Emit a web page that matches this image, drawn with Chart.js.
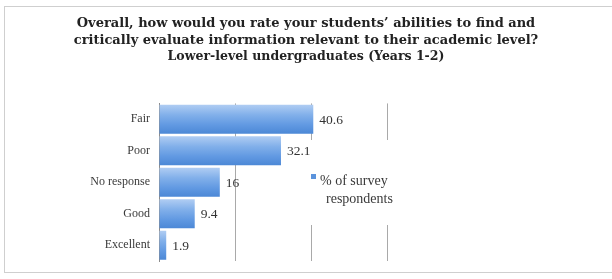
<!DOCTYPE html>
<html>
<head>
<meta charset="utf-8">
<script src="https://cdn.jsdelivr.net/npm/chart.js@4/dist/chart.umd.min.js"></script>
<style>
    body { margin: 0; background: #fff; }
    #wrap { width: 612px; height: 279px; }
</style>
</head>
<body>
<div id="wrap"><canvas id="chart" width="612" height="279"></canvas></div>
<script>
const categories = ['Fair', 'Poor', 'No response', 'Good', 'Excellent'];
const percentValues = [40.6, 32.1, 16, 9.4, 1.9];
const seriesName = ['% of survey', 'respondents'];
const titleLines = [
    'Overall, how would you rate your students\u2019 abilities to find and',
    'critically evaluate information relevant to their academic level?'
];
const subtitleText = 'Lower-level undergraduates (Years 1-2)';

const SERIF = "'Liberation Serif', 'DejaVu Serif', serif";
const WIDE_SERIF = "'DejaVu Serif', 'Liberation Serif', serif";

// vertical gradient for each bar, based on the category scale
function barFill(ctx) {
    const chart = ctx.chart;
    if (!chart.chartArea) return '#5b93dc';
    const y = chart.scales.y;
    const c = y.getPixelForValue(ctx.dataIndex);
    const half = Math.abs(y.getPixelForValue(1) - y.getPixelForValue(0)) * 0.92 / 2;
    const g = chart.ctx.createLinearGradient(0, c - half, 0, c + half);
    g.addColorStop(0, '#b0cdf3');
    g.addColorStop(0.35, '#82b0ea');
    g.addColorStop(0.7, '#6199e2');
    g.addColorStop(1, '#4c88d6');
    return g;
}

const framePlugin = {
    id: 'frame',
    beforeDraw(chart) {
        const ctx = chart.ctx;
        ctx.save();
        ctx.strokeStyle = '#cfcfcf';
        ctx.lineWidth = 1;
        ctx.strokeRect(4.5, 6.5, 640, 266);
        ctx.restore();
    }
};

// legend box sitting over the plot, text wrapped on two lines
const boxLegend = {
    id: 'boxLegend',
    afterDatasetsDraw(chart) {
        const ctx = chart.ctx;
        const label = chart.data.datasets[0].label;
        ctx.save();
        ctx.fillStyle = '#fff';
        ctx.fillRect(300, 140, 106, 85);
        ctx.fillStyle = '#5b93dc';
        ctx.fillRect(311, 174, 5, 5);
        ctx.font = '14px ' + SERIF;
        ctx.fillStyle = '#3a3a3a';
        ctx.textBaseline = 'middle';
        ctx.fillText(label[0], 320, 181);
        ctx.fillText(label[1], 326, 199);
        ctx.restore();
    }
};

const valueLabels = {
    id: 'valueLabels',
    afterDatasetsDraw(chart) {
        const ctx = chart.ctx;
        const meta = chart.getDatasetMeta(0);
        ctx.save();
        ctx.font = '13.5px ' + SERIF;
        ctx.fillStyle = '#333';
        ctx.textBaseline = 'middle';
        meta.data.forEach((bar, i) => {
            ctx.fillText(String(percentValues[i]), bar.x + 6, bar.y + 1);
        });
        ctx.restore();
    }
};

new Chart(document.getElementById('chart'), {
    type: 'bar',
    data: {
        labels: categories,
        datasets: [{
            label: seriesName,
            data: percentValues,
            backgroundColor: barFill,
            borderWidth: 0,
            categoryPercentage: 1,
            barPercentage: 0.92
        }]
    },
    options: {
        indexAxis: 'y',
        responsive: false,
        animation: false,
        layout: { padding: { left: 0, right: 0, top: 0, bottom: 18 } },
        plugins: {
            legend: { display: false },
            tooltip: { enabled: false },
            title: {
                display: true,
                text: titleLines,
                color: '#222',
                font: { family: WIDE_SERIF, size: 13, weight: 'bold', lineHeight: 1.3 },
                padding: { top: 15, bottom: 0 }
            },
            subtitle: {
                display: true,
                text: subtitleText,
                color: '#222',
                font: { family: WIDE_SERIF, size: 12.5, weight: 'bold', lineHeight: 1.25 },
                padding: { top: 0, bottom: 39 }
            }
        },
        scales: {
            x: {
                min: 0,
                max: 60,
                ticks: { display: false, stepSize: 20 },
                grid: { color: '#a9a9a9', drawTicks: false },
                border: { display: false }
            },
            y: {
                grid: { display: false },
                border: { display: true, color: '#8c8c8c' },
                ticks: { color: '#3a3a3a', padding: 1, font: { family: SERIF, size: 12 } },
                afterFit(scale) { scale.width = 159; }
            },
            yRight: {
                type: 'category',
                position: 'right',
                grid: { display: false },
                border: { display: false },
                ticks: { display: false },
                afterFit(scale) { scale.width = 225; }
            }
        }
    },
    plugins: [framePlugin, boxLegend, valueLabels]
});
</script>
</body>
</html>
